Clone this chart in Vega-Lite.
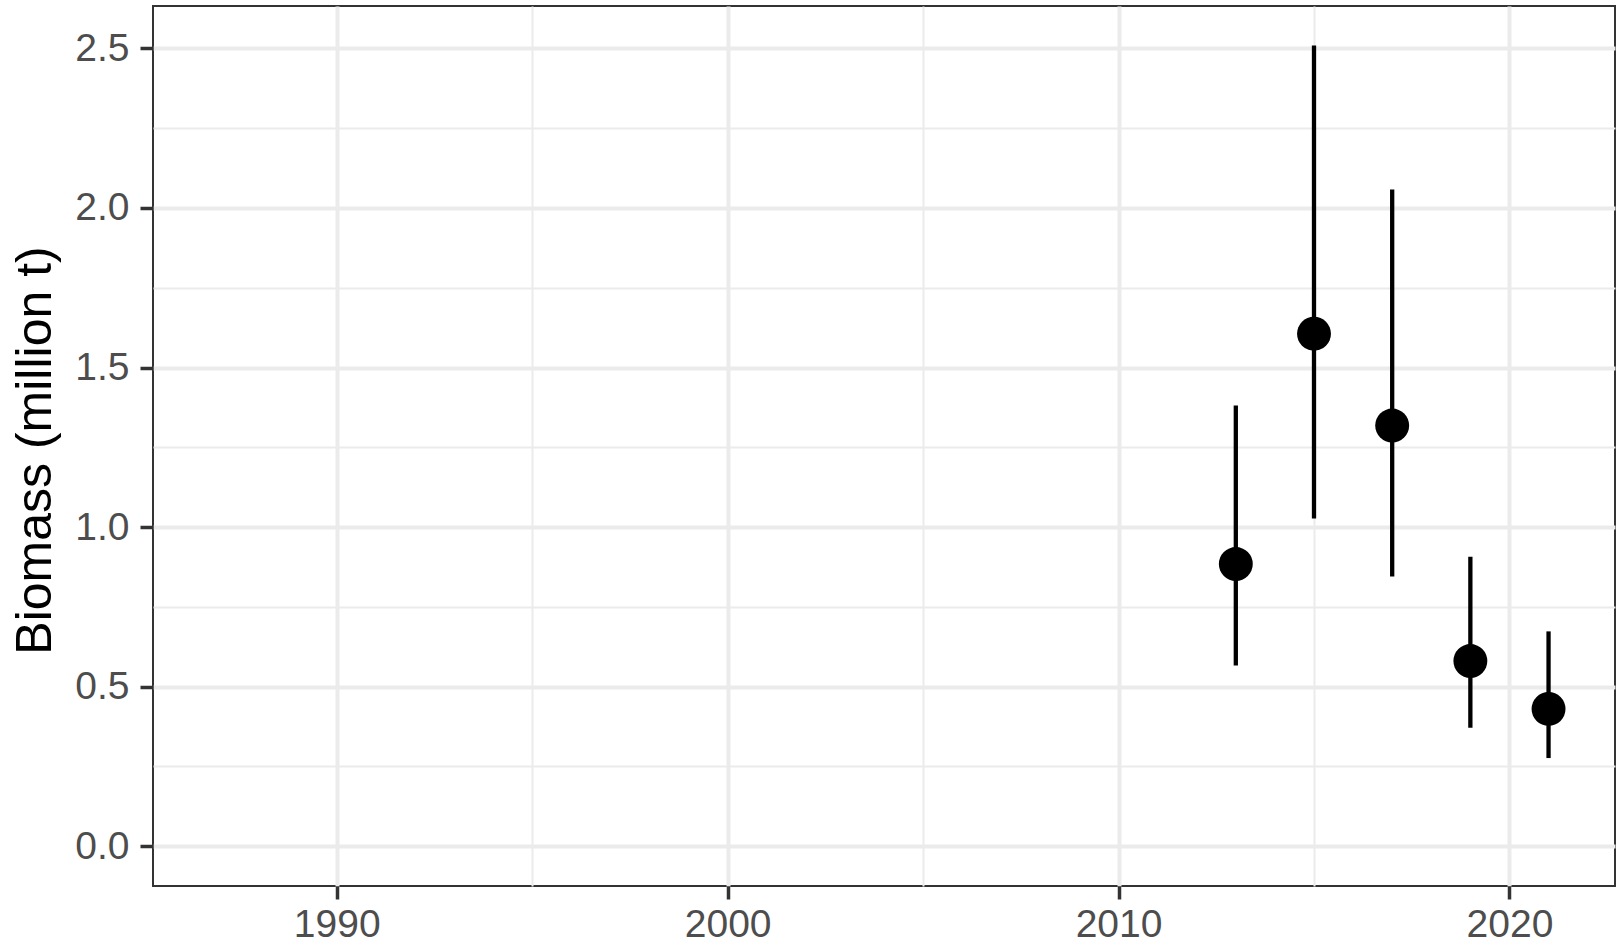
{
  "$schema": "https://vega.github.io/schema/vega-lite/v6.json",
  "width": 1462,
  "height": 880,
  "autosize": {"type": "none"},
  "padding": {"left": 153, "top": 6, "right": 1, "bottom": 58},
  "background": "white",
  "config": {
    "view": {"stroke": "#333333", "strokeWidth": 2},
    "font": "Liberation Sans"
  },
  "data": {
    "values": [
      {"year": 2013, "biomass": 0.884, "lower": 0.566, "upper": 1.381},
      {"year": 2015, "biomass": 1.606, "lower": 1.027, "upper": 2.509},
      {"year": 2017, "biomass": 1.318, "lower": 0.845, "upper": 2.058},
      {"year": 2019, "biomass": 0.580, "lower": 0.371, "upper": 0.907},
      {"year": 2021, "biomass": 0.430, "lower": 0.276, "upper": 0.673}
    ]
  },
  "layer": [
    {
      "mark": {"type": "rule", "strokeWidth": 4.3, "color": "black"},
      "encoding": {
        "x": {
          "field": "year", "type": "quantitative",
          "scale": {"domain": [1985.3, 2022.7], "nice": false, "zero": false},
          "axis": {"orient": "bottom", "values": [1995, 2005, 2015], "grid": true, "gridColor": "#EBEBEB", "gridWidth": 2, "labels": false, "ticks": false, "domain": false, "title": null}
        },
        "y": {
          "field": "lower", "type": "quantitative",
          "scale": {"domain": [-0.125, 2.633], "nice": false, "zero": false},
          "axis": {"orient": "left", "values": [0.25, 0.75, 1.25, 1.75, 2.25], "grid": true, "gridColor": "#EBEBEB", "gridWidth": 2, "labels": false, "ticks": false, "domain": false, "title": null}
        },
        "y2": {"field": "upper"}
      }
    },
    {
      "mark": {"type": "circle", "size": 1150, "color": "black", "opacity": 1},
      "encoding": {
        "x": {
          "field": "year", "type": "quantitative",
          "scale": {"domain": [1985.3, 2022.7], "nice": false, "zero": false},
          "axis": {
            "orient": "bottom", "values": [1990, 2000, 2010, 2020], "format": "d",
            "grid": true, "gridColor": "#EBEBEB", "gridWidth": 4,
            "domain": false, "ticks": true, "tickColor": "#333333", "tickWidth": 3.5, "tickSize": 13,
            "labelFontSize": 39, "labelColor": "#4D4D4D", "labelPadding": 6, "labelFlush": false,
            "title": null
          }
        },
        "y": {
          "field": "biomass", "type": "quantitative",
          "scale": {"domain": [-0.125, 2.633], "nice": false, "zero": false},
          "axis": {
            "orient": "left", "values": [0, 0.5, 1, 1.5, 2, 2.5], "format": ".1f",
            "grid": true, "gridColor": "#EBEBEB", "gridWidth": 4,
            "domain": false, "ticks": true, "tickColor": "#333333", "tickWidth": 3.5, "tickSize": 13,
            "labelFontSize": 39, "labelColor": "#4D4D4D", "labelPadding": 11, "labelFlush": false,
            "title": "Biomass (million t)", "titleFontSize": 50, "titleFontWeight": "normal", "titleColor": "black",
            "titleAngle": -90, "titleX": -103, "titleY": 444, "titleAlign": "center", "titleBaseline": "alphabetic"
          }
        }
      }
    }
  ],
  "resolve": {"axis": {"x": "independent", "y": "independent"}}
}
